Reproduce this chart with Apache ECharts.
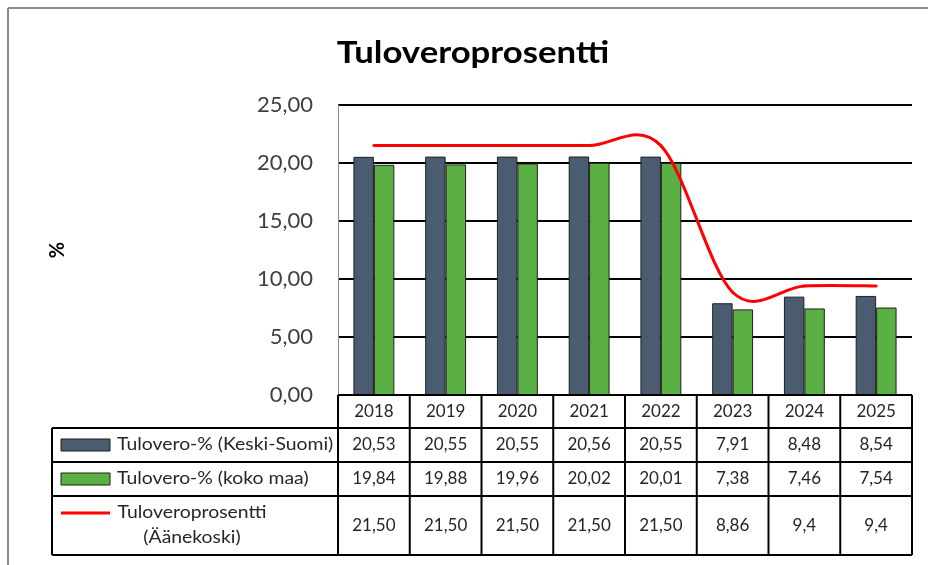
<!DOCTYPE html>
<html>
<head>
<meta charset="utf-8">
<script src="https://cdn.jsdelivr.net/npm/echarts@6/dist/echarts.min.js"></script>
<style>
  html, body { margin: 0; padding: 0; background: #fff; }
  #main { width: 928px; height: 565px; }
</style>
</head>
<body>
<div id="main"></div>
<script>
// ---------------------------------------------------------------- data
var years = ['2018', '2019', '2020', '2021', '2022', '2023', '2024', '2025'];
var keskiSuomi = [20.53, 20.55, 20.55, 20.56, 20.55, 7.91, 8.48, 8.54];
var kokoMaa = [19.84, 19.88, 19.96, 20.02, 20.01, 7.38, 7.46, 7.54];
var aanekoski = [21.50, 21.50, 21.50, 21.50, 21.50, 8.86, 9.4, 9.4];
// desimaalit taulukossa (9,4 näkyy yhdellä desimaalilla)
var aanekoskiDecimals = [2, 2, 2, 2, 2, 2, 1, 1];
var seriesNames = ['Tulovero-% (Keski-Suomi)', 'Tulovero-% (koko maa)', 'Tuloveroprosentti', '(Äänekoski)'];
var chartTitle = 'Tuloveroprosentti';
var yMin = 0, yMax = 25, yStep = 5;

// ---------------------------------------------------------------- style
var FONT = 'Lato';
var TEXT = '#262626';
var DARK = '#4b5b70';
var GREEN = '#5bb043';
var RED = '#ff0000';
var GRID_LEFT = 338, GRID_RIGHT = 16, GRID_TOP = 105, GRID_BOTTOM = 170;
var TABLE_LEFT = 52;
var ROW_Y = [395, 428, 462, 496, 555];   // taulukon rivirajat
var STRETCH = 1.14;                      // excelin leveämpi teksti

function fmt(v, d) {
    return v.toFixed(d).replace('.', ',');
}

/*
* Excelin tapainen pehmennetty viiva (Catmull-Rom -> Bezier)
* */
function renderSmoothSegment(params, api) {
    var i = params.dataIndex;
    var n = aanekoski.length;
    if (i >= n - 1) {
        return;
    }
    var p = function (k) {
        k = Math.max(0, Math.min(n - 1, k));
        return api.coord([k, aanekoski[k]]);
    };
    var p0 = p(i - 1), p1 = p(i), p2 = p(i + 1), p3 = p(i + 2);
    return {
        type: 'bezierCurve',
        shape: {
            x1: p1[0], y1: p1[1],
            x2: p2[0], y2: p2[1],
            cpx1: p1[0] + (p2[0] - p0[0]) / 6,
            cpy1: p1[1] + (p2[1] - p0[1]) / 6,
            cpx2: p2[0] - (p3[0] - p1[0]) / 6,
            cpy2: p2[1] - (p3[1] - p1[1]) / 6
        },
        style: {stroke: RED, lineWidth: 3, fill: null, lineCap: 'round'}
    };
}

var chart = echarts.init(document.getElementById('main'));

var option = {
    animation: false,
    backgroundColor: '#fff',
    grid: {left: GRID_LEFT, right: GRID_RIGHT, top: GRID_TOP, bottom: GRID_BOTTOM},
    xAxis: {
        type: 'category',
        data: years,
        axisLine: {show: false},
        axisTick: {show: false},
        axisLabel: {show: false}
    },
    yAxis: {
        type: 'value',
        min: yMin,
        max: yMax,
        interval: yStep,
        name: '%',
        nameLocation: 'middle',
        nameGap: 270,
        nameRotate: 90,
        nameTextStyle: {fontFamily: FONT, fontWeight: 'bold', fontSize: 20, color: '#000'},
        axisLine: {show: true, lineStyle: {color: '#8a8a8a', width: 1}},
        axisTick: {show: false},
        axisLabel: {
            margin: 25,
            fontFamily: FONT,
            fontSize: 22,
            color: '#404040',
            formatter: function (v) {
                return fmt(v, 2);
            }
        },
        splitLine: {lineStyle: {color: '#000', width: 2}}
    },
    series: [
        {
            name: seriesNames[0],
            type: 'bar',
            data: keskiSuomi,
            barGap: '0%',
            barCategoryGap: '43%',
            itemStyle: {color: DARK, borderColor: '#1f1f1f', borderWidth: 1}
        },
        {
            name: seriesNames[1],
            type: 'bar',
            data: kokoMaa,
            itemStyle: {color: GREEN, borderColor: '#1f1f1f', borderWidth: 1}
        },
        {
            name: seriesNames[2],
            type: 'custom',
            data: aanekoski.map(function (v, i) {
                return [i, v];
            }),
            encode: {x: 0, y: 1},
            renderItem: renderSmoothSegment,
            z: 5
        }
    ]
};
chart.setOption(option);

// ---------------------------------------------------------------- data-taulukko
var centers = years.map(function (y, i) {
    return chart.convertToPixel({xAxisIndex: 0}, i);
});
var catWidth = centers[1] - centers[0];
var colEdges = [centers[0] - catWidth / 2].concat(centers.map(function (c) {
    return c + catWidth / 2;
}));
var tableRight = colEdges[colEdges.length - 1];
var els = [];

function hLine(x1, x2, y) {
    els.push({type: 'line', shape: {x1: x1, y1: y, x2: x2, y2: y}, style: {stroke: '#000', lineWidth: 2}, z: 10});
}
function vLine(x, y1, y2) {
    els.push({type: 'line', shape: {x1: x, y1: y1, x2: x, y2: y2}, style: {stroke: '#000', lineWidth: 2}, z: 10});
}
function cellText(txt, x, y, align, sx) {
    els.push({
        type: 'text', x: x, y: y, z: 11, scaleX: sx || 1,
        style: {text: txt, fill: TEXT, font: '17px ' + FONT, align: align || 'center', verticalAlign: 'middle'}
    });
}

// otsikko
els.push({
    type: 'text', x: 473, y: 53, scaleX: 1.12,
    style: {text: chartTitle, fill: '#000', font: 'bold 31px ' + FONT, align: 'center', verticalAlign: 'middle'}
});

// kehys
els.push({type: 'line', shape: {x1: 8, y1: 8, x2: 928, y2: 8}, style: {stroke: '#8c8c8c', lineWidth: 2}});
els.push({type: 'line', shape: {x1: 8, y1: 8, x2: 8, y2: 565}, style: {stroke: '#8c8c8c', lineWidth: 2}});

// viivat
hLine(colEdges[0], tableRight, ROW_Y[0]);
for (var r = 1; r < ROW_Y.length; r++) {
    hLine(TABLE_LEFT, tableRight, ROW_Y[r]);
}
vLine(TABLE_LEFT, ROW_Y[1], ROW_Y[4]);
for (var c = 0; c < colEdges.length; c++) {
    vLine(colEdges[c], ROW_Y[0], ROW_Y[4]);
}

// arvot
var rowMid = function (r) {
    return (ROW_Y[r] + ROW_Y[r + 1]) / 2;
};
for (var i = 0; i < years.length; i++) {
    cellText(years[i], centers[i], rowMid(0));
    cellText(fmt(keskiSuomi[i], 2), centers[i], rowMid(1));
    cellText(fmt(kokoMaa[i], 2), centers[i], rowMid(2));
    cellText(fmt(aanekoski[i], aanekoskiDecimals[i]), centers[i], rowMid(3));
}

// selitteet
els.push({type: 'rect', shape: {x: 61, y: rowMid(1) - 6, width: 49, height: 12},
    style: {fill: DARK, stroke: '#1f1f1f', lineWidth: 1}, z: 11});
els.push({type: 'rect', shape: {x: 61, y: rowMid(2) - 6, width: 49, height: 12},
    style: {fill: GREEN, stroke: '#1f1f1f', lineWidth: 1}, z: 11});
els.push({type: 'line', shape: {x1: 61, y1: 513, x2: 110, y2: 513},
    style: {stroke: RED, lineWidth: 3}, z: 11});
cellText(seriesNames[0], 117, rowMid(1), 'left', STRETCH);
cellText(seriesNames[1], 117, rowMid(2), 'left', STRETCH);
cellText(seriesNames[2], 192, 513, 'center', STRETCH);
cellText(seriesNames[3], 192, 538, 'center', STRETCH);

chart.setOption({graphic: els});
</script>
</body>
</html>
